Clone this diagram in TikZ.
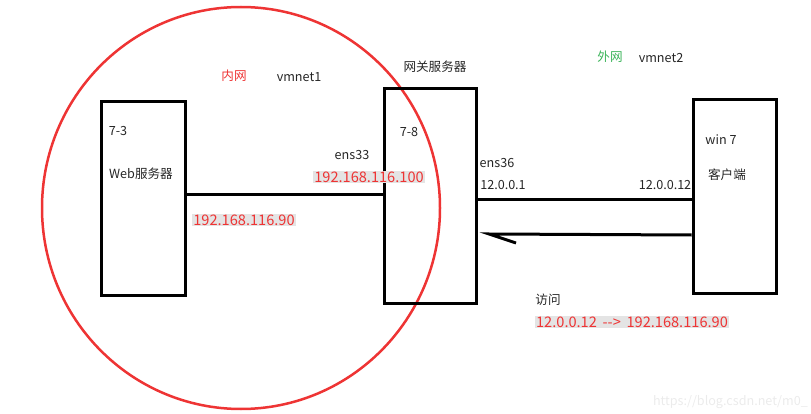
\documentclass[tikz,border=0pt]{standalone}
\usepackage{fontspec}
\setmainfont{Noto Sans CJK SC}
\definecolor{myred}{RGB}{238,52,52}
\definecolor{mygreen}{RGB}{60,180,90}
\definecolor{hl}{RGB}{228,228,228}
\begin{document}
\begin{tikzpicture}[x=1pt,y=-1pt,
  box/.style={draw=black,line width=3pt,minimum width=#1,inner sep=0pt},
  wire/.style={draw=black,line width=3pt},
  lbl/.style={font=\fontsize{12.6}{14}\selectfont,text=black!85,inner sep=1pt},
  redlbl/.style={font=\fontsize{14.6}{16}\selectfont,text=myred,inner sep=1pt,fill=hl},
  ]
\useasboundingbox (0,0) rectangle (811,414);
% red circle
\draw[myred,line width=2.5pt] (241,208) ellipse [x radius=199pt,y radius=201pt];
% boxes
\node[box=84pt,minimum height=193pt] (web) at (143,198.5) {};
\node[box=92pt,minimum height=214pt] (gw) at (430,196) {};
\node[box=83pt,minimum height=193pt] (cl) at (734.5,196.5) {};
% connectors
\draw[wire] (web.east |- 0,195) -- (gw.west |- 0,195);
\draw[wire] (gw.east |- 0,200) -- (cl.west |- 0,200);
\coordinate (tip) at (489,234);
\coordinate (barb) at (516,243);
\draw[wire] (cl.west |- 0,235) -- (tip) -- (barb);
% labels
\node[lbl,text=myred] (nw) at (234,76) {内网};
\node[lbl] (vm1) at (299,77) {vmnet1};
\node[lbl] (gwt) at (435,67) {网关服务器};
\node[lbl,text=mygreen] (ww) at (610,57) {外网};
\node[lbl] (vm2) at (661,58) {vmnet2};
\node[lbl] (t73) at (118,131) {7-3};
\node[lbl] (webt) at (141,174) {Web服务器};
\node[lbl] (ens33) at (352,155) {ens33};
\node[redlbl] (ip100) at (369,177) {192.168.116.100};
\node[lbl] (t78) at (409,132) {7-8};
\node[lbl] (ens36) at (497,163) {ens36};
\node[lbl] (ip1) at (503,185) {12.0.0.1};
\node[lbl] (ip12) at (665,185) {12.0.0.12};
\node[lbl] (win) at (721,140) {win 7};
\node[lbl] (kh) at (727,175) {客户端};
\node[redlbl] (ip90) at (244,220) {192.168.116.90};
\node[lbl] (fw) at (548,300) {访问};
\node[redlbl] (acc) at (632,322) {12.0.0.12 \,-{}-> \,192.168.116.90};
\node[lbl,text=black!8,anchor=east] (wm) at (809,402) {https://blog.csdn.net/m0\_};
\end{tikzpicture}
\end{document}
